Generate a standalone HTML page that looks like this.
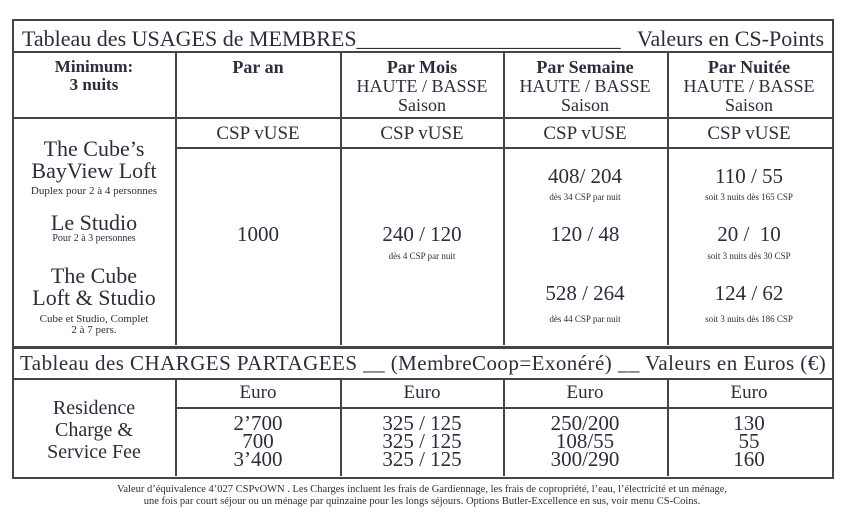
<!DOCTYPE html>
<html><head><meta charset="utf-8"><style>
body{margin:0;width:844px;height:524px;background:#fff;position:relative;font-family:"Liberation Serif",serif;color:#2b2d3c;overflow:hidden}
.a{position:absolute;white-space:nowrap}
.c{position:absolute;text-align:center;transform:translateX(-50%);white-space:nowrap;line-height:1}
.h{position:absolute;height:2px;background:#444}
.v{position:absolute;width:2px;background:#444}
</style></head><body>
<div class="a" style="left:12px;top:19px;width:818px;height:325px;border:2px solid #444"></div>
<div class="a" style="left:12px;top:347px;width:818px;height:128px;border:2px solid #444"></div>
<div class="h" style="left:12px;top:51px;width:820px"></div>
<div class="h" style="left:12px;top:117px;width:820px"></div>
<div class="h" style="left:176px;top:147px;width:656px"></div>
<div class="v" style="left:175px;top:51px;height:294px"></div>
<div class="v" style="left:340px;top:51px;height:294px"></div>
<div class="v" style="left:503px;top:51px;height:294px"></div>
<div class="v" style="left:667px;top:51px;height:294px"></div>
<div class="h" style="left:12px;top:378px;width:820px"></div>
<div class="h" style="left:176px;top:407px;width:656px"></div>
<div class="v" style="left:175px;top:378px;height:98px"></div>
<div class="v" style="left:340px;top:378px;height:98px"></div>
<div class="v" style="left:503px;top:378px;height:98px"></div>
<div class="v" style="left:667px;top:378px;height:98px"></div>

<div class="a" style="left:22px;top:26px;font-size:22px">Tableau des USAGES de MEMBRES________________________</div>
<div class="a" style="right:20px;top:26px;font-size:22px">Valeurs en CS-Points</div>

<div class="c" style="left:94px;top:58px;font-size:17px;font-weight:bold;line-height:18px">Minimum:<br>3 nuits</div>
<div class="c" style="left:258px;top:58px;font-size:18px;font-weight:bold">Par an</div>
<div class="c" style="left:422px;top:58px;font-size:18px;line-height:19px"><b>Par Mois</b><br>HAUTE / BASSE<br>Saison</div>
<div class="c" style="left:585px;top:58px;font-size:18px;line-height:19px"><b>Par Semaine</b><br>HAUTE / BASSE<br>Saison</div>
<div class="c" style="left:749px;top:58px;font-size:18px;line-height:19px"><b>Par Nuitée</b><br>HAUTE / BASSE<br>Saison</div>

<div class="c" style="left:258px;top:124px;font-size:19px">CSP vUSE</div>
<div class="c" style="left:422px;top:124px;font-size:19px">CSP vUSE</div>
<div class="c" style="left:585px;top:124px;font-size:19px">CSP vUSE</div>
<div class="c" style="left:749px;top:124px;font-size:19px">CSP vUSE</div>

<div class="c" style="left:94px;top:138px;font-size:22px;line-height:22px">The Cube’s<br>BayView Loft</div>
<div class="c" style="left:94px;top:186px;font-size:11px">Duplex pour 2 à 4 personnes</div>
<div class="c" style="left:94px;top:212px;font-size:22px">Le Studio</div>
<div class="c" style="left:94px;top:234px;font-size:10px">Pour 2 à 3 personnes</div>
<div class="c" style="left:94px;top:265px;font-size:22px;line-height:22px">The Cube<br>Loft &amp; Studio</div>
<div class="c" style="left:94px;top:314px;font-size:11px;line-height:11px">Cube et Studio, Complet<br>2 à 7 pers.</div>

<div class="c" style="left:258px;top:224px;font-size:21px">1000</div>
<div class="c" style="left:422px;top:224px;font-size:21px">240 / 120</div>
<div class="c" style="left:422px;top:252px;font-size:9px">dès 4 CSP par nuit</div>

<div class="c" style="left:585px;top:166px;font-size:21px">408/ 204</div>
<div class="c" style="left:585px;top:193px;font-size:9px">dès 34 CSP par nuit</div>
<div class="c" style="left:585px;top:224px;font-size:21px">120 / 48</div>
<div class="c" style="left:585px;top:283px;font-size:21px">528 / 264</div>
<div class="c" style="left:585px;top:315px;font-size:9px">dès 44 CSP par nuit</div>

<div class="c" style="left:749px;top:166px;font-size:21px">110 / 55</div>
<div class="c" style="left:749px;top:193px;font-size:9px">soit 3 nuits dès 165 CSP</div>
<div class="c" style="left:749px;top:224px;font-size:21px">20 /&nbsp; 10</div>
<div class="c" style="left:749px;top:252px;font-size:9px">soit 3 nuits dès 30 CSP</div>
<div class="c" style="left:749px;top:283px;font-size:21px">124 / 62</div>
<div class="c" style="left:749px;top:315px;font-size:9px">soit 3 nuits dès 186 CSP</div>

<div class="a" style="left:20px;top:351px;font-size:21px;letter-spacing:0.45px">Tableau des CHARGES PARTAGEES __ (MembreCoop=Exonéré) __ Valeurs en Euros (€)</div>

<div class="c" style="left:258px;top:383px;font-size:19px">Euro</div>
<div class="c" style="left:422px;top:383px;font-size:19px">Euro</div>
<div class="c" style="left:585px;top:383px;font-size:19px">Euro</div>
<div class="c" style="left:749px;top:383px;font-size:19px">Euro</div>

<div class="c" style="left:94px;top:397px;font-size:20px;line-height:22px">Residence<br>Charge &amp;<br>Service Fee</div>
<div class="c" style="left:258px;top:414px;font-size:21px;line-height:18px">2’700<br>700<br>3’400</div>
<div class="c" style="left:422px;top:414px;font-size:21px;line-height:18px">325 / 125<br>325 / 125<br>325 / 125</div>
<div class="c" style="left:585px;top:414px;font-size:21px;line-height:18px">250/200<br>108/55<br>300/290</div>
<div class="c" style="left:749px;top:414px;font-size:21px;line-height:18px">130<br>55<br>160</div>

<div class="c" style="left:422px;top:484px;font-size:10.5px;line-height:12px">Valeur d’équivalence 4’027 CSPvOWN . Les Charges incluent les frais de Gardiennage, les frais de copropriété, l’eau, l’électricité et un ménage,<br>une fois par court séjour ou un ménage par quinzaine pour les longs séjours. Options Butler-Excellence en sus, voir menu CS-Coins.</div>
</body></html>
